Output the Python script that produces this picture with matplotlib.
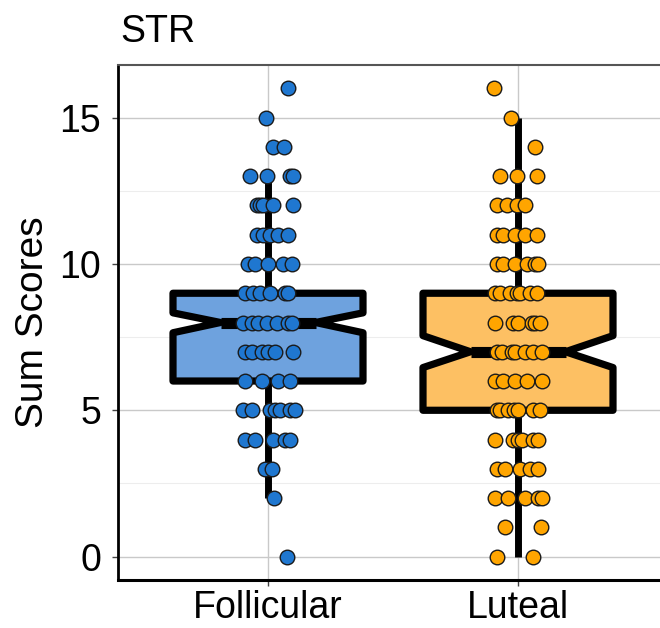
import matplotlib
matplotlib.use("Agg")
import matplotlib.pyplot as plt
from matplotlib.ticker import MultipleLocator

plt.rcParams["font.family"] = ["Liberation Sans", "DejaVu Sans"]

# ---- data -----------------------------------------------------------------
groups = ["Follicular", "Luteal"]
title = "STR"
y_label = "Sum Scores"
y_ticks = [0, 5, 10, 15]

# box summaries (ggplot-style notched boxes)
box_q1 = [6, 5]
box_med = [8, 7]
box_q3 = [9, 9]
whisker_lo = [2, 0]
whisker_hi = [13, 15]
notch_lo = [7.65, 6.46]
notch_hi = [8.33, 7.55]

# individual scores and their horizontal jitter (in category units)
follicular_scores = [
    16, 15, 14, 14, 13, 13, 13, 13,
    12, 12, 12, 12, 12, 11, 11, 11, 11, 11,
    10, 10, 10, 10, 10, 9, 9, 9, 9, 9, 9,
    8, 8, 8, 8, 8, 8, 8, 7, 7, 7, 7, 7, 7,
    6, 6, 6, 6, 5, 5, 5, 5, 5, 5, 5,
    4, 4, 4, 4, 4, 3, 3, 2, 0,
]
follicular_jitter = [
    0.080, -0.008, 0.020, 0.064, -0.072, -0.004, 0.088, 0.100,
    -0.044, -0.032, -0.020, 0.020, 0.100, -0.044, -0.020, 0.008, 0.040, 0.080,
    -0.080, -0.052, 0.000, 0.060, 0.096, -0.092, -0.060, -0.032, 0.008, 0.068, 0.080,
    -0.100, -0.064, -0.040, -0.004, 0.036, 0.080, 0.096, -0.092, -0.064, -0.024, 0.000, 0.028, 0.100,
    -0.092, -0.024, 0.040, 0.088, -0.100, -0.064, 0.008, 0.028, 0.048, 0.088, 0.108,
    -0.092, -0.052, 0.020, 0.068, 0.088, -0.012, 0.016, 0.024, 0.076,
]
luteal_scores = [
    16, 15, 14, 13, 13, 13, 12, 12, 12, 12,
    11, 11, 11, 11, 11, 10, 10, 10, 10, 10, 10,
    9, 9, 9, 9, 9, 9, 9, 8, 8, 8, 8, 8, 8,
    7, 7, 7, 7, 7, 7, 7, 6, 6, 6, 6, 6,
    5, 5, 5, 5, 5, 5, 5, 4, 4, 4, 4, 4, 4,
    3, 3, 3, 3, 3, 2, 2, 2, 2, 2, 1, 1, 0, 0,
]
luteal_jitter = [
    -0.096, -0.028, 0.068, -0.072, -0.004, 0.076, -0.084, -0.044, -0.004, 0.028,
    -0.084, -0.060, -0.012, 0.028, 0.076, -0.084, -0.060, -0.012, 0.036, 0.068, 0.080,
    -0.092, -0.072, -0.032, -0.004, 0.008, 0.048, 0.076, -0.092, -0.020, 0.000, 0.056, 0.068, 0.088,
    -0.084, -0.064, -0.024, -0.012, 0.028, 0.060, 0.096, -0.092, -0.060, -0.012, 0.036, 0.096,
    -0.084, -0.072, -0.040, -0.016, 0.000, 0.060, 0.088, -0.092, -0.020, 0.000, 0.016, 0.060, 0.080,
    -0.084, -0.052, 0.008, 0.048, 0.080, -0.092, -0.040, 0.028, 0.080, 0.096, -0.052, 0.092, -0.084, 0.060,
]

point_colors = ["#1F77D0", "#FFA500"]
box_colors = ["#6EA2DE", "#FDC063"]

# ---- figure -----------------------------------------------------------------
fig = plt.figure(figsize=(6.6, 6.28), dpi=100)
ax = fig.add_axes([118 / 660, 1 - 580 / 628, 550 / 660, (580 - 65) / 628])

positions = [1, 2]
stats = []
for i, g in enumerate(groups):
    stats.append(dict(label=g, med=box_med[i], q1=box_q1[i], q3=box_q3[i],
                      whislo=whisker_lo[i], whishi=whisker_hi[i],
                      cilo=notch_lo[i], cihi=notch_hi[i], fliers=[]))

bp = ax.bxp(stats, positions=positions, widths=0.76, shownotches=True,
            showcaps=False, showfliers=False, patch_artist=True,
            boxprops=dict(linewidth=5.2, edgecolor="black", joinstyle="round"),
            whiskerprops=dict(linewidth=5.0, color="black", solid_capstyle="butt"),
            medianprops=dict(linewidth=8.0, color="black", solid_capstyle="butt"),
            zorder=2)
for patch, c in zip(bp["boxes"], box_colors):
    patch.set_facecolor(c)

for pos, scores, jit, col in [(1, follicular_scores, follicular_jitter, point_colors[0]),
                              (2, luteal_scores, luteal_jitter, point_colors[1])]:
    xs = [pos + j for j in jit]
    ax.scatter(xs, scores, s=110, facecolor=col, edgecolor="#1a1a1a",
               linewidth=1.0, zorder=3)

# ---- axes styling -------------------------------------------------------------
ax.set_xlim(0.4, 2.6)
ax.set_ylim(-0.8, 16.8)
ax.set_xticks(positions)
ax.set_xticklabels(groups)
ax.set_yticks(y_ticks)
ax.yaxis.set_minor_locator(MultipleLocator(2.5))

ax.grid(True, which="major", color="#C9C9C9", linewidth=1.0, zorder=0)
ax.grid(True, which="minor", axis="y", color="#EDEDED", linewidth=0.8, zorder=0)
ax.set_axisbelow(True)

for side in ["left", "bottom"]:
    ax.spines[side].set_color("black")
ax.spines["left"].set_linewidth(2.0)
ax.spines["bottom"].set_linewidth(2.2)
ax.spines["top"].set_color("#555555")
ax.spines["top"].set_linewidth(1.5)
ax.spines["right"].set_visible(False)

ax.tick_params(axis="both", which="major", length=4, width=1, color="#444444",
               labelsize=27, labelcolor="black")
ax.tick_params(axis="y", which="minor", length=0)
ax.tick_params(axis="x", pad=3)
ax.tick_params(axis="y", pad=8)

ax.set_ylabel(y_label, fontsize=28, labelpad=6)
fig.text(120 / 660, 1 - 42 / 628, title, fontsize=27, ha="left", va="baseline")

fig.savefig("out.png", dpi=100)
